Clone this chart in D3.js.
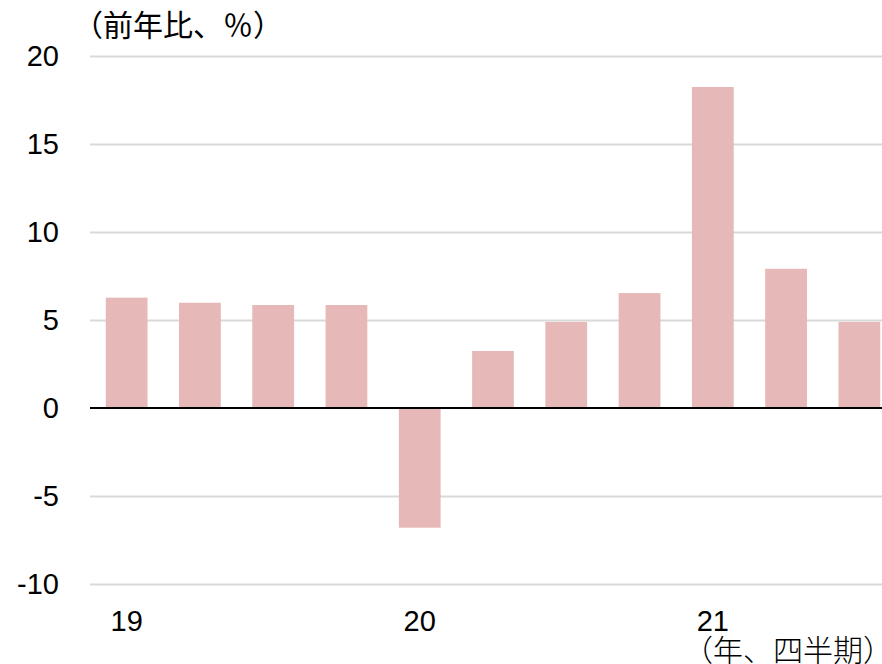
<!DOCTYPE html>
<html>
<head>
<meta charset="utf-8">
<script src="https://cdn.jsdelivr.net/npm/d3@7"></script>
<style>
    body { margin: 0; background: #fff; }
    svg { display: block; }
    .num { font-family: "Liberation Sans", Arial, sans-serif; fill: #000; }
    .cjk { font-family: "Noto Sans CJK JP", sans-serif; fill: #000; }
</style>
</head>
<body>
<div id="chart"></div>
<script>

// quarters 2019Q1 .. 2021Q3
var quarters = ["19Q1", "19Q2", "19Q3", "19Q4", "20Q1", "20Q2", "20Q3", "20Q4", "21Q1", "21Q2", "21Q3"]
var growth = [6.27, 5.98, 5.85, 5.85, -6.8, 3.24, 4.89, 6.53, 18.24, 7.91, 4.89]

var yTicks = [-10, -5, 0, 5, 10, 15, 20]
var xTickValues = ["19Q1", "20Q1", "21Q1"]
var xTickLabels = ["19", "20", "21"]

var yTitle = "（前年比、％）"
var xTitle = "（年、四半期）"

var W = 882, H = 664
var barColor = "#e6b8b7"
var gridColor = "#d9d9d9"

var svg = d3.select("#chart")
    .append("svg")
        .attr("width", W)
        .attr("height", H)

var x = d3.scaleBand()
    .domain(quarters)
    .range([90, 896])
    .paddingInner(0.43)
    .paddingOuter(0.215)

var y = d3.scaleLinear()
    .domain([-10, 20])
    .range([584, 56])

// horizontal gridlines (zero drawn later on top of bars)
svg.append("g")
    .attr("transform", "translate(90,0)")
    .call(d3.axisLeft(y)
        .tickValues(yTicks.filter(function(d) { return d !== 0 }))
        .tickSize(-(W - 90))
        .tickFormat(""))
    .call(function(g) {
        g.select(".domain").remove()
        g.selectAll(".tick line")
            .attr("stroke", gridColor)
            .attr("stroke-width", 2)
    })

// bars
svg.append("g")
    .selectAll("rect")
    .data(quarters)
    .enter()
    .append("rect")
        .attr("x", function(d) { return x(d) })
        .attr("width", x.bandwidth())
        .attr("y", function(d, i) { return y(Math.max(0, growth[i])) })
        .attr("height", function(d, i) { return Math.abs(y(growth[i]) - y(0)) })
        .attr("fill", barColor)

// zero line
svg.append("line")
    .attr("x1", 90)
    .attr("x2", W)
    .attr("y1", y(0))
    .attr("y2", y(0))
    .attr("stroke", "#000")
    .attr("stroke-width", 2)

// y tick labels
svg.append("g")
    .selectAll("text")
    .data(yTicks)
    .enter()
    .append("text")
        .attr("class", "num")
        .attr("x", 59)
        .attr("y", function(d) { return y(d) })
        .attr("dy", "0.36em")
        .attr("text-anchor", "end")
        .style("font-size", "29px")
        .text(function(d) { return d })

// x tick labels (first quarter of each year)
var xAxis = svg.append("g")
    .attr("transform", "translate(0,600)")
    .call(d3.axisBottom(x)
        .tickValues(xTickValues)
        .tickSize(0)
        .tickPadding(0)
        .tickFormat(function(d, i) { return xTickLabels[i] }))

xAxis.select(".domain").remove()
xAxis.selectAll("text")
    .attr("class", "num")
    .attr("dy", null)
    .attr("y", 31)
    .style("font-size", "29px")
    .style("font-family", "'Liberation Sans', Arial, sans-serif")
    .attr("fill", "#000")

// axis titles
svg.append("text")
    .attr("class", "cjk")
    .attr("x", 73)
    .attr("y", 36)
    .style("font-size", "30px")
    .text(yTitle)

svg.append("text")
    .attr("class", "cjk")
    .attr("x", 893)
    .attr("y", 661)
    .attr("text-anchor", "end")
    .style("font-size", "30px")
    .style("font-weight", 300)
    .text(xTitle)

</script>
</body>
</html>
